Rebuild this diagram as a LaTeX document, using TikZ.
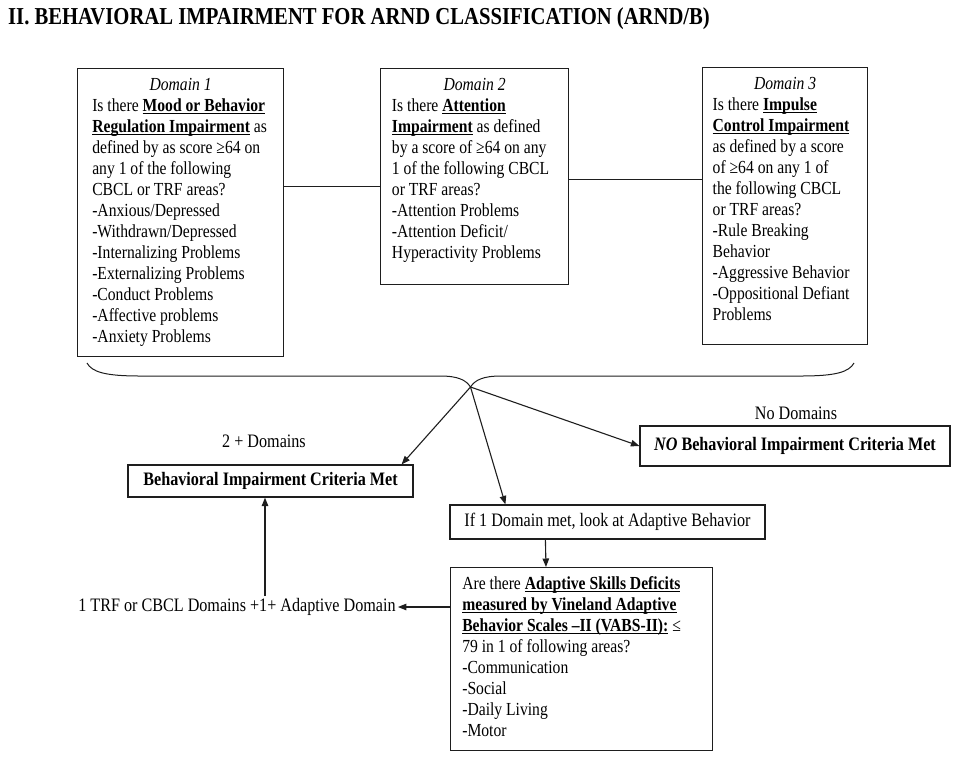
\documentclass[tikz,border=0pt]{standalone}
\usepackage{fontspec}
\setmainfont{Liberation Serif}[FakeStretch=0.85]
\usetikzlibrary{arrows.meta,positioning}
\definecolor{ink}{HTML}{1E1E1E}
\newsavebox{\ubbox}
\newcommand{\ub}[1]{\sbox{\ubbox}{\textbf{#1}}\rlap{\rule[-2.6pt]{\wd\ubbox}{0.9pt}}\usebox{\ubbox}}
\newcommand{\dhead}[1]{\multicolumn{1}{@{}c@{}}{\textit{#1}}}

\begin{document}
\begin{tikzpicture}[
  x=1pt, y=-1pt,
  font=\fontsize{18.4}{21}\selectfont,
  box/.style={draw=ink,line width=1.2pt,anchor=north west,inner xsep=0pt,inner ysep=7.3pt},
  flat/.style={draw=ink,line width=1.2pt,inner sep=3pt,font=\fontsize{19}{21}\selectfont},
  tag/.style={inner sep=2pt,font=\fontsize{19}{21}\selectfont},
  link/.style={draw=ink,line width=1pt},
  arr/.style={-{Triangle[length=8.5pt,width=6.5pt]},draw=ink,line width=1.1pt},
]
\useasboundingbox (0,0) rectangle (953,756);

% --- title -------------------------------------------------------------------
\node[anchor=base west,inner sep=0pt,font=\fontsize{24.3}{26}\selectfont\bfseries] (title) at (8,24)
  {II. BEHAVIORAL IMPAIRMENT FOR ARND CLASSIFICATION (ARND/B)};

% --- row 0: the three domains ------------------------------------------------
\node[box,minimum width=206pt] (d1) at (77,68)
  {\begin{tabular}[t]{@{}l@{\hspace{2pt}}}
   \dhead{Domain 1}\\
   Is there \ub{Mood or Behavior}\\
   \ub{Regulation Impairment} as\\
   defined by as score ≥64 on\\
   any 1 of the following\\
   CBCL or TRF areas?\\
   -Anxious/Depressed\\
   -Withdrawn/Depressed\\
   -Internalizing Problems\\
   -Externalizing Problems\\
   -Conduct Problems\\
   -Affective problems\\
   -Anxiety Problems
   \end{tabular}};
\node[box,minimum width=188pt,text depth=186.7pt] (d2) at (380,68)
  {\begin{tabular}[t]{@{}l@{\hspace{8pt}}}
   \dhead{Domain 2}\\
   Is there \ub{Attention}\\
   \ub{Impairment} as defined\\
   by a score of ≥64 on any\\
   1 of the following CBCL\\
   or TRF areas?\\
   -Attention Problems\\
   -Attention Deficit/\\
   Hyperactivity Problems
   \end{tabular}};
\node[box,minimum width=165pt,text depth=247.7pt] (d3) at (702,67)
  {\begin{tabular}[t]{@{}l@{\hspace{8pt}}}
   \dhead{Domain 3}\\
   Is there \ub{Impulse}\\
   \ub{Control Impairment}\\
   as defined by a score\\
   of ≥64 on any 1 of\\
   the following CBCL\\
   or TRF areas?\\
   -Rule Breaking\\
   Behavior\\
   -Aggressive Behavior\\
   -Oppositional Defiant\\
   Problems
   \end{tabular}};

\draw[link] ([yshift=-118pt]d1.north east) -- ([yshift=-118pt]d2.north west);
\draw[link] ([yshift=-111pt]d2.north east) -- ([yshift=-111pt]d2.north east -| d3.west);

% --- the brace gathering the domains -----------------------------------------
\coordinate (tip) at (470.5,387);
\draw[link] (87,363) .. controls (92,372) and (105,376) .. (140,376) -- (440,376)
  .. controls (458,376) and (466,380) .. (tip)
  .. controls (475,380) and (483,376) .. (501,376) -- (801,376)
  .. controls (836,376) and (849,372) .. (854,363);

% --- outcomes ----------------------------------------------------------------
\node[tag] (none) at (796,413) {No Domains};
\node[flat,minimum width=310pt,minimum height=40pt] (nocrit) at (795,446)
  {\textbf{\textit{NO} Behavioral Impairment Criteria Met}};
\node[tag] (two) at (264,441) {2 + Domains};
\node[flat,minimum width=285pt,minimum height=32pt] (crit) at (270.5,481)
  {\textbf{Behavioral Impairment Criteria Met}};
\node[flat,minimum width=315pt,minimum height=34pt] (onedom) at (607.5,522)
  {If 1 Domain met, look at Adaptive Behavior};
\node[box,minimum width=262pt] (adapt) at (450,567)
  {\begin{tabular}[t]{@{}l@{\hspace{20pt}}}
   Are there \ub{Adaptive Skills Deficits}\\
   \ub{measured by Vineland Adaptive}\\
   \ub{Behavior Scales –II (VABS-II):} ≤\\
   79 in 1 of following areas?\\
   -Communication\\
   -Social\\
   -Daily Living\\
   -Motor
   \end{tabular}};
\node[tag] (trf) at (237,607) {1 TRF or CBCL Domains +1+ Adaptive Domain};

% --- arrows ------------------------------------------------------------------
\draw[arr] (tip) -- ([xshift=-12pt]crit.north east);
\draw[arr] (tip) -- ([xshift=56pt]onedom.north west);
\draw[arr] (tip) -- (nocrit.west);
\draw[arr] ([xshift=96pt]onedom.south west) -- ([xshift=96pt]adapt.north west);
\draw[arr] (trf.east -| adapt.west) -- (trf.east);
\draw[arr] ([xshift=28pt]trf.north) -- ([xshift=28pt]trf.north |- crit.south);
\end{tikzpicture}
\end{document}
